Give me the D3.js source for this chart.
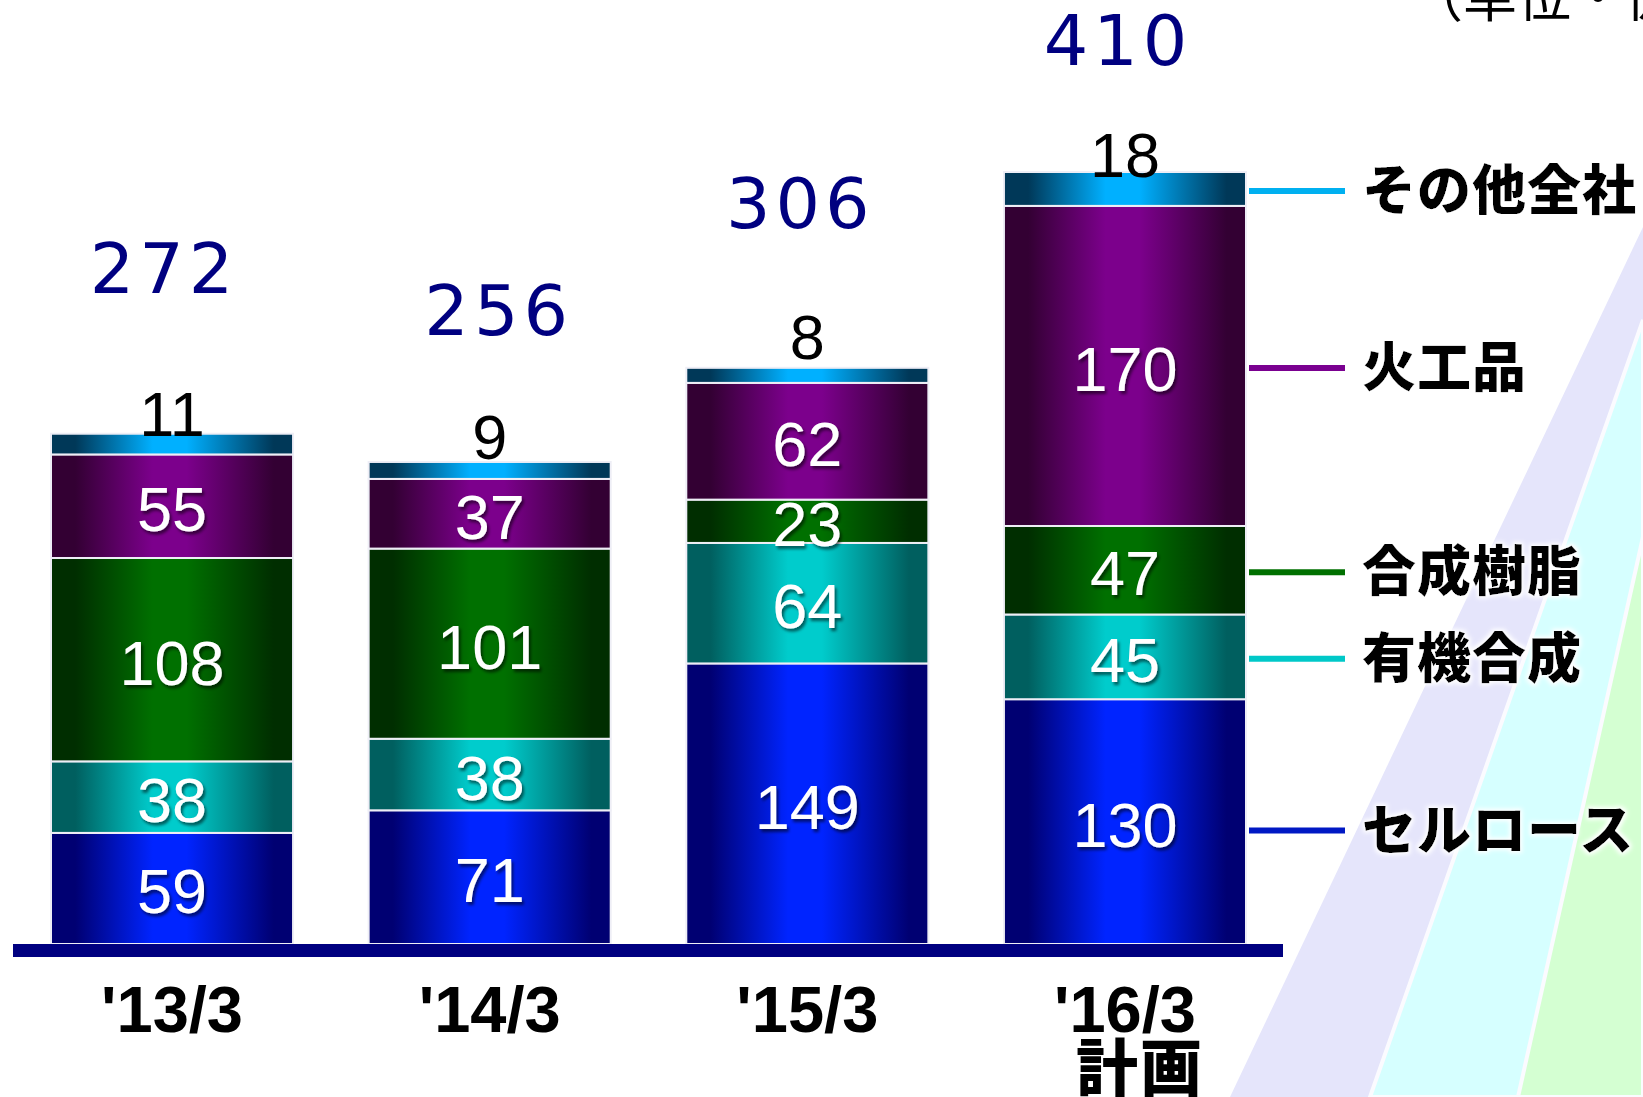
<!DOCTYPE html>
<html>
<head>
<meta charset="utf-8">
<script src="https://cdn.jsdelivr.net/npm/d3@7"></script>
<style>
  html, body { margin: 0; padding: 0; background: #fff; }
  svg { display: block; }
</style>
</head>
<body>
<svg id="chart" width="1643" height="1097"></svg>
<script>
// Segment sales by fiscal year (unit: 億円)
const categories = ["'13/3", "'14/3", "'15/3", "'16/3"];
const categoryNotes = ["", "", "", "計画"];
const seriesNames = ["セルロース", "有機合成", "合成樹脂", "火工品", "その他全社"];
const cellulose = [59, 71, 149, 130];
const organic = [38, 38, 64, 45];
const resin = [108, 101, 23, 47];
const explosives = [55, 37, 62, 170];
const others = [11, 9, 8, 18];
const totals = [272, 256, 306, 410];
const unitLabel = "（単位・億円）";

const seriesValues = [cellulose, organic, resin, explosives, others];
const table = categories.map((c, i) => {
  const row = { category: c };
  seriesNames.forEach((s, k) => { row[s] = seriesValues[k][i]; });
  return row;
});

// Look of each series: gradient edge / centre colours and legend line colour
const palette = {
  "セルロース": { dark: "#000072", light: "#0024ff", line: "#0018c4" },
  "有機合成":   { dark: "#005f5f", light: "#00cccc", line: "#00c8c8" },
  "合成樹脂":   { dark: "#002e00", light: "#007000", line: "#007000" },
  "火工品":     { dark: "#330033", light: "#7c008c", line: "#7a0090" },
  "その他全社": { dark: "#003858", light: "#00b0ff", line: "#00b0f0" }
};

// Hand-placed label nudges
const totalLift = [141, 127, 140, 107];
const totalDx = [-8, 9, -7, -7];
const topLabelDy = [2, -3, -9, 5];

const svg = d3.select("#chart");
const W = 1643, H = 1097;
const defs = svg.append("defs");

seriesNames.forEach((s, k) => {
  const g = defs.append("linearGradient").attr("id", "grad" + k)
    .attr("x1", "0%").attr("x2", "100%").attr("y1", "0%").attr("y2", "0%");
  g.append("stop").attr("offset", "0%").attr("stop-color", palette[s].dark);
  g.append("stop").attr("offset", "10%").attr("stop-color", palette[s].dark);
  g.append("stop").attr("offset", "42%").attr("stop-color", palette[s].light);
  g.append("stop").attr("offset", "56%").attr("stop-color", palette[s].light);
  g.append("stop").attr("offset", "92%").attr("stop-color", palette[s].dark);
  g.append("stop").attr("offset", "100%").attr("stop-color", palette[s].dark);
});

// Soft shadow behind the white values
const sh = defs.append("filter").attr("id", "shadow")
  .attr("x", "-20%").attr("y", "-20%").attr("width", "140%").attr("height", "140%");
sh.append("feDropShadow").attr("dx", 2).attr("dy", 3).attr("stdDeviation", 1.6)
  .attr("flood-color", "#000").attr("flood-opacity", 0.55);

// White halo round the legend names
const halo = defs.append("filter").attr("id", "halo")
  .attr("x", "-10%").attr("y", "-20%").attr("width", "120%").attr("height", "140%");
halo.append("feMorphology").attr("in", "SourceAlpha").attr("operator", "dilate")
  .attr("radius", 2).attr("result", "d");
halo.append("feGaussianBlur").attr("in", "d").attr("stdDeviation", 2).attr("result", "b");
halo.append("feFlood").attr("flood-color", "#fff").attr("result", "w");
halo.append("feComposite").attr("in", "w").attr("in2", "b").attr("operator", "in").attr("result", "glow");
const hm = halo.append("feMerge");
hm.append("feMergeNode").attr("in", "glow");
hm.append("feMergeNode").attr("in", "SourceGraphic");

// Diagonal background bands, lower right
const bands = [
  { pts: [[W, 227], [1230, H], [W, H]], fill: "#e5e5fb" },
  { pts: [[W, 320], [1370, H], [W, H]], fill: "#d6ffff" },
  { pts: [[W, 537], [1518, H], [W, H]], fill: "#d4ffd2" }
];
svg.append("g").selectAll("polygon").data(bands).join("polygon")
  .attr("points", d => d.pts.map(p => p.join(",")).join(" "))
  .attr("fill", d => d.fill)
  .attr("stroke", (d, i) => i === 0 ? "none" : "#fbfbff")
  .attr("stroke-width", 4);

// Scales
const x = d3.scaleBand().domain(categories).range([51, 1246]).paddingInner(0.238).paddingOuter(0);
const y = d3.scaleLinear().domain([0, 410]).range([944, 172]);

const stack = d3.stack().keys(seriesNames);
const layers = stack(table);

// Bars
const barG = svg.append("g");
layers.forEach((layer, k) => {
  barG.append("g").selectAll("rect").data(layer).join("rect")
    .attr("x", d => x(d.data.category))
    .attr("width", x.bandwidth())
    .attr("y", d => y(d[1]))
    .attr("height", d => y(d[0]) - y(d[1]))
    .attr("fill", `url(#grad${k})`)
    .attr("stroke", "#eeeef6")
    .attr("stroke-width", 2);
});

// Baseline bar
svg.append("rect")
  .attr("x", 13).attr("y", y(0)).attr("width", 1283 - 13).attr("height", 13)
  .attr("fill", "#000080");

const numFont = "'Liberation Sans', Arial, sans-serif";
const cjkFont = "'Noto Sans CJK JP', 'Noto Sans CJK SC', sans-serif";

// Values inside the segments (all series but the thin top one)
layers.slice(0, 4).forEach(layer => {
  svg.append("g").selectAll("text").data(layer).join("text")
    .attr("x", d => x(d.data.category) + x.bandwidth() / 2)
    .attr("y", d => (y(d[0]) + y(d[1])) / 2 + 25)
    .attr("text-anchor", "middle")
    .attr("font-family", numFont)
    .attr("font-size", 63)
    .attr("fill", "#fff")
    .attr("filter", "url(#shadow)")
    .text(d => d[1] - d[0]);
});

// Values of the top segment, sitting on the bar
svg.append("g").selectAll("text").data(layers[4]).join("text")
  .attr("x", d => x(d.data.category) + x.bandwidth() / 2)
  .attr("y", (d, i) => y(d[1]) + topLabelDy[i])
  .attr("text-anchor", "middle")
  .attr("font-family", numFont)
  .attr("font-size", 63)
  .attr("fill", "#000")
  .text(d => d[1] - d[0]);

// Totals above each bar
svg.append("g").selectAll("text").data(categories).join("text")
  .attr("x", (c, i) => x(c) + x.bandwidth() / 2 + totalDx[i])
  .attr("y", (c, i) => y(layers[4][i][1]) - totalLift[i])
  .attr("text-anchor", "middle")
  .attr("font-family", "'DejaVu Sans', Verdana, sans-serif")
  .attr("font-size", 70)
  .attr("letter-spacing", 5)
  .attr("fill", "#000080")
  .text((c, i) => totals[i]);

// Category labels
svg.append("g").selectAll("text").data(categories).join("text")
  .attr("x", c => x(c) + x.bandwidth() / 2)
  .attr("y", 1032)
  .attr("text-anchor", "middle")
  .attr("font-family", numFont)
  .attr("font-weight", "bold")
  .attr("font-size", 65)
  .attr("fill", "#000")
  .text(c => c);

svg.append("g").selectAll("text").data(categories.filter((c, i) => categoryNotes[i])).join("text")
  .attr("x", c => x(c) + x.bandwidth() / 2 + 15)
  .attr("y", 1091)
  .attr("text-anchor", "middle")
  .attr("font-family", cjkFont)
  .attr("font-weight", 900)
  .attr("font-size", 62)
  .attr("letter-spacing", 2)
  .attr("fill", "#000")
  .text(c => categoryNotes[categories.indexOf(c)]);

// Legend, aligned with the segments of the last bar
const last = categories.length - 1;
const legend = svg.append("g");
seriesNames.forEach((s, k) => {
  const d = layers[k][last];
  const cy = (y(d[0]) + y(d[1])) / 2 + (k === 0 ? 9 : 2);
  legend.append("line")
    .attr("x1", 1249).attr("x2", 1345).attr("y1", cy).attr("y2", cy)
    .attr("stroke", palette[s].line).attr("stroke-width", 6);
  legend.append("text")
    .attr("x", 1362).attr("y", cy + 19)
    .attr("font-family", cjkFont)
    .attr("font-weight", 900)
    .attr("font-size", 54)
    .attr("letter-spacing", 1)
    .attr("fill", "#000")
    .attr("filter", "url(#halo)")
    .text(s);
});

// Unit note, top right
svg.append("text")
  .attr("x", 1409).attr("y", 17)
  .attr("font-family", cjkFont)
  .attr("font-size", 54)
  .attr("fill", "#000")
  .text(unitLabel);
</script>
</body>
</html>
